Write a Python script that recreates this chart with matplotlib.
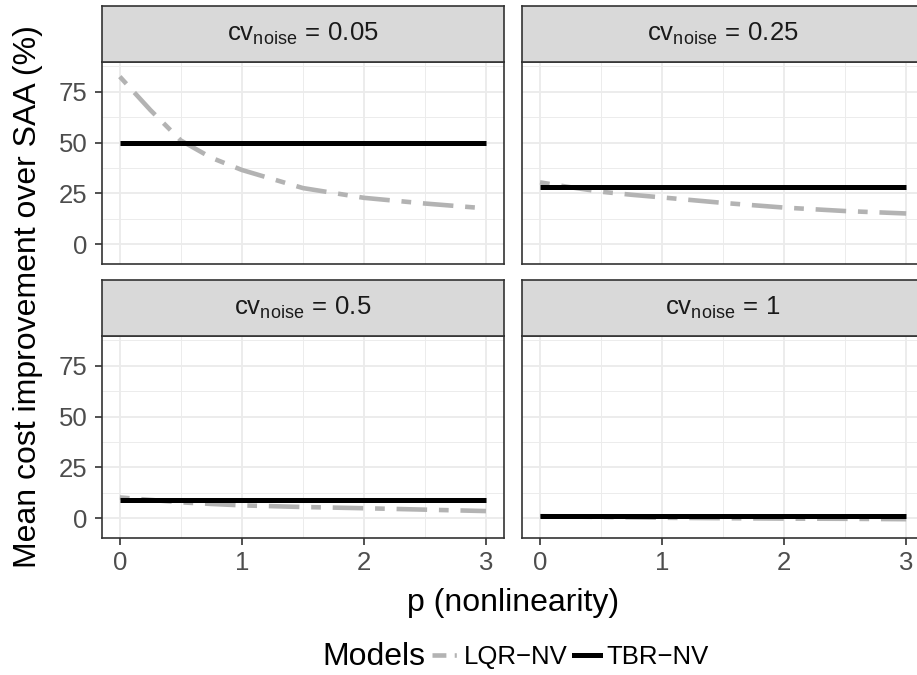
import matplotlib
matplotlib.use("Agg")
import matplotlib.pyplot as plt
from matplotlib.lines import Line2D
import numpy as np

plt.rcParams['font.family'] = ['Liberation Sans', 'DejaVu Sans']
plt.rcParams['mathtext.fontset'] = 'custom'
plt.rcParams['mathtext.rm'] = 'Liberation Sans'
plt.rcParams['mathtext.it'] = 'Liberation Sans'
plt.rcParams['lines.scale_dashes'] = False

# ---- data ----
p_vals = [0.0, 0.25, 0.5, 0.75, 1.0, 1.5, 2.0, 2.5, 3.0]
panel_titles = ["0.05", "0.25", "0.5", "1"]
lqr_005 = [82.4, 66.0, 51.0, 42.5, 36.5, 27.6, 22.8, 20.0, 17.6]
lqr_025 = [30.4, 28.0, 25.8, 24.3, 23.0, 20.3, 18.0, 16.3, 15.1]
lqr_05 = [10.2, 9.0, 7.8, 7.0, 6.3, 5.5, 4.9, 4.2, 3.5]
lqr_1 = [1.0, 0.8, 0.6, 0.4, 0.2, 0.0, -0.2, -0.3, -0.5]
tbr_005 = [50.0] * len(p_vals)
tbr_025 = [28.2] * len(p_vals)
tbr_05 = [9.0] * len(p_vals)
tbr_1 = [1.0] * len(p_vals)
lqr_all = [lqr_005, lqr_025, lqr_05, lqr_1]
tbr_all = [tbr_005, tbr_025, tbr_05, tbr_1]
y_ticks = [0, 25, 50, 75]
x_ticks = [0, 1, 2, 3]
model_names = ["LQR\u2212NV", "TBR\u2212NV"]

W, H = 917, 675
fig = plt.figure(figsize=(W / 100, H / 100), dpi=100)

# panel geometry in pixels
lefts = [101.5, 521.7]
pw = 402.8
tops = [62.0, 336.0]
ph = 201.5
strip_h = 56.0

GRAY_LINE = '#b3b3b3'
BORDER = '#333333'
dash_pat = (0, (7.0, 8.5, 22.0, 8.5))
TICK_FS = 18.5
TITLE_FS = 23

for i in range(4):
    r, c = divmod(i, 2)
    x0 = lefts[c]
    y0 = tops[r]
    ax = fig.add_axes([x0 / W, (H - y0 - ph) / H, pw / W, ph / H])
    ax.set_xlim(-0.15, 3.15)
    ax.set_ylim(-9.5, 89.6)
    ax.set_xticks(x_ticks)
    ax.set_yticks(y_ticks)
    ax.set_xticks([0.5, 1.5, 2.5], minor=True)
    ax.set_yticks([12.5, 37.5, 62.5, 87.5], minor=True)
    ax.grid(which='major', color='#ebebeb', lw=1.3)
    ax.grid(which='minor', color='#ebebeb', lw=0.65)
    ax.set_axisbelow(True)
    for s in ax.spines.values():
        s.set_color(BORDER)
        s.set_linewidth(1.2)
    ax.tick_params(which='minor', length=0)
    ax.tick_params(which='major', length=5, width=1.2, color=BORDER,
                   labelsize=TICK_FS, labelcolor='#4d4d4d', pad=5)
    if c == 1:
        ax.tick_params(axis='y', labelleft=False, length=0)
    if r == 0:
        ax.tick_params(axis='x', labelbottom=False, length=0)
    ax.plot(p_vals, lqr_all[i], color=GRAY_LINE, lw=3.3, linestyle=dash_pat,
            solid_capstyle='butt', dash_capstyle='butt', zorder=3)
    ax.plot(p_vals, tbr_all[i], color='black', lw=3.6, solid_capstyle='butt', zorder=4)
    # strip
    sax = fig.add_axes([x0 / W, (H - y0) / H, pw / W, strip_h / H])
    sax.set_facecolor('#d9d9d9')
    sax.set_xticks([])
    sax.set_yticks([])
    for s in sax.spines.values():
        s.set_color(BORDER)
        s.set_linewidth(1.2)
    sax.text(0.5, 0.5, r'$\mathrm{cv}_{\mathrm{noise}}\,=\,\mathrm{' + panel_titles[i] + '}$',
             transform=sax.transAxes, ha='center', va='center', fontsize=TICK_FS, color='#1a1a1a')

fig.text(513 / W, 1 - 603 / H, 'p (nonlinearity)', ha='center', va='center', fontsize=TITLE_FS)
fig.text(28 / W, 1 - 297 / H, 'Mean cost improvement over SAA (%)', ha='center', va='center',
         rotation=90, fontsize=TITLE_FS)

fig.text(322 / W, 1 - 657 / H, 'Models', ha='left', va='center', fontsize=TITLE_FS)
handles = [Line2D([], [], color=GRAY_LINE, lw=3.3, linestyle=(0, (10, 6, 1.5, 6))),
           Line2D([], [], color='black', lw=3.6)]
fig.legend(handles, model_names, loc='center left', bbox_to_anchor=(432 / W, 1 - 657 / H),
           ncol=2, frameon=False, fontsize=TICK_FS, handlelength=1.0, handletextpad=0.25,
           columnspacing=0.25, borderaxespad=0, borderpad=0)

fig.savefig('out.png', dpi=100)
